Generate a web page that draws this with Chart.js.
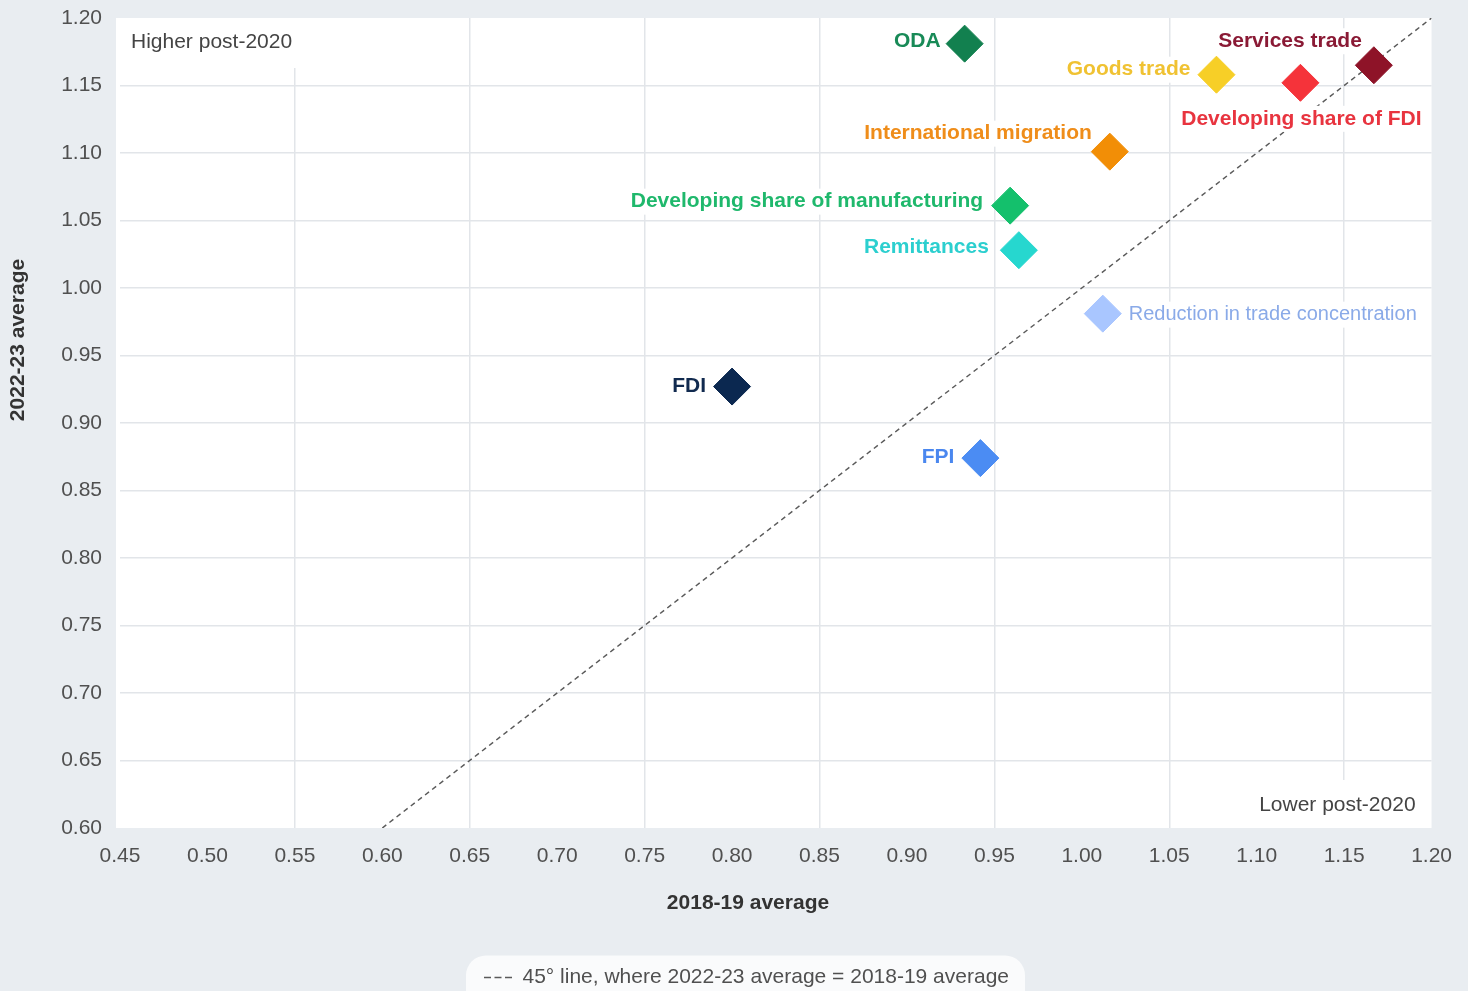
<!DOCTYPE html>
<html>
<head>
<meta charset="utf-8">
<script src="https://cdn.jsdelivr.net/npm/chart.js@4.4.1/dist/chart.umd.min.js"></script>
<style>
  html, body { margin: 0; padding: 0; background: #e9edf1; overflow: hidden; }
  #wrap { width: 1468px; height: 998px; position: relative; }
</style>
</head>
<body>
<div id="wrap"><canvas id="chart"></canvas></div>
<script>
// Data
const indicators = ['ODA', 'Services trade', 'Goods trade', 'Developing share of FDI',
  'International migration', 'Developing share of manufacturing', 'Remittances',
  'Reduction in trade concentration', 'FDI', 'FPI'];
const avg2018_19 = [0.933, 1.167, 1.077, 1.125, 1.016, 0.959, 0.964, 1.012, 0.800, 0.942];
const avg2022_23 = [1.181, 1.165, 1.158, 1.152, 1.101, 1.061, 1.028, 0.981, 0.927, 0.874];
const parityLine = [0.60, 1.20];
const xRange = [0.45, 1.20];
const yRange = [0.60, 1.20];
const tickStep = 0.05;

// Styling
const FONT = '"Liberation Sans", Arial, sans-serif';
const pointColors = ['#12804f', '#8e1328', '#f7cf27', '#f5333a', '#f28e06',
  '#14c06c', '#26d7cf', '#a9c6ff', '#0b2850', '#4b8cf3'];
const textColors = ['#188a57', '#8a1a35', '#f0c232', '#e8343f', '#ef8d1a',
  '#1fb86c', '#2ccfcf', '#8aaae8', '#112a4f', '#4a87ef'];
// label offset from its marker, in pixels
const labelPlacement = [
  { dx: -24, dy: -2, align: 'right' },
  { dx: -12, dy: -24, align: 'right' },
  { dx: -26, dy: -5, align: 'right' },
  { dx: 1, dy: 36, align: 'center' },
  { dx: -18, dy: -18, align: 'right' },
  { dx: -27, dy: -4, align: 'right' },
  { dx: -30, dy: -3, align: 'right' },
  { dx: 26, dy: 1, align: 'left', weight: 'normal', size: 20 },
  { dx: -26, dy: 0, align: 'right' },
  { dx: -26, dy: -1, align: 'right' }
];

Chart.defaults.font.family = FONT;
Chart.defaults.font.size = 21;
Chart.defaults.color = '#505050';

const plotBackground = {
  id: 'plotBackground',
  beforeDraw(chart) {
    const { ctx, chartArea: a, legend } = chart;
    ctx.save();
    ctx.fillStyle = '#ffffff';
    ctx.fillRect(a.left - 4, a.top, a.right - a.left + 4, a.bottom - a.top);
    const box = legend.legendHitBoxes && legend.legendHitBoxes[0];
    if (box) {
      const cy = box.top + box.height / 2;
      ctx.fillStyle = '#fafbfc';
      ctx.beginPath();
      ctx.roundRect(box.left - 18, cy - 22, box.width + 34, 60, 20);
      ctx.fill();
    }
    ctx.restore();
  }
};

const quadrantLabels = {
  id: 'quadrantLabels',
  beforeDatasetsDraw(chart) {
    const { ctx, chartArea: a } = chart;
    ctx.save();
    ctx.font = '21px ' + FONT;
    ctx.textBaseline = 'middle';
    ctx.fillStyle = '#ffffff';
    const w1 = ctx.measureText('Higher post-2020').width;
    ctx.fillRect(a.left + 4, a.top, w1 + 20, 50);
    const w2 = ctx.measureText('Lower post-2020').width;
    ctx.fillRect(a.right - 16 - w2 - 10, a.bottom - 48, w2 + 20, 48);
    ctx.fillStyle = '#444444';
    ctx.textAlign = 'left';
    ctx.fillText('Higher post-2020', a.left + 11, a.top + 24);
    ctx.textAlign = 'right';
    ctx.fillText('Lower post-2020', a.right - 16, a.bottom - 23);
    ctx.restore();
  }
};

const pointLabels = {
  id: 'pointLabels',
  beforeDatasetDraw(chart, args) {
    if (args.index !== 0) return;
    const { ctx } = chart;
    const meta = chart.getDatasetMeta(0);
    ctx.save();
    ctx.textBaseline = 'middle';
    meta.data.forEach((pt, i) => {
      const p = labelPlacement[i];
      ctx.font = (p.weight || 'bold') + ' ' + (p.size || 21) + 'px ' + FONT;
      ctx.textAlign = p.align;
      const tx = pt.x + p.dx;
      const ty = pt.y + p.dy;
      const w = ctx.measureText(indicators[i]).width;
      const left = p.align === 'right' ? tx - w : p.align === 'center' ? tx - w / 2 : tx;
      ctx.fillStyle = '#ffffff';
      ctx.fillRect(left - 5, ty - 13, w + 10, 26);
      ctx.fillStyle = textColors[i];
      ctx.fillText(indicators[i], tx, ty);
    });
    ctx.restore();
  }
};

const axisTitles = {
  id: 'axisTitles',
  afterDraw(chart) {
    const { ctx, chartArea: a } = chart;
    ctx.save();
    ctx.fillStyle = '#333333';
    ctx.font = 'bold 21px ' + FONT;
    ctx.textAlign = 'center';
    ctx.textBaseline = 'middle';
    ctx.fillText('2018-19 average', a.left + 628, a.bottom + 75);
    ctx.translate(18, (a.top + a.bottom) / 2 - 83);
    ctx.rotate(-Math.PI / 2);
    ctx.fillText('2022-23 average', 0, 0);
    ctx.restore();
  }
};

const GRID = '#e2e5e9';

new Chart(document.getElementById('chart'), {
  type: 'scatter',
  data: {
    datasets: [
      {
        label: 'Indicators',
        data: indicators.map((_, i) => ({ x: avg2018_19[i], y: avg2022_23[i] })),
        backgroundColor: pointColors,
        borderColor: pointColors,
        borderWidth: 1,
        pointStyle: 'rectRot',
        pointRadius: 18.5,
        order: 1
      },
      {
        type: 'line',
        label: '45\u00b0 line, where 2022-23 average = 2018-19 average',
        data: parityLine.map(v => ({ x: v, y: v })),
        borderColor: '#5a5a5a',
        backgroundColor: 'transparent',
        borderWidth: 1.5,
        borderDash: [5, 4],
        pointRadius: 0,
        order: 2
      }
    ]
  },
  options: {
    responsive: true,
    maintainAspectRatio: false,
    animation: false,
    layout: { autoPadding: false, padding: { left: 60, right: 35, top: 18, bottom: 0 } },
    scales: {
      x: {
        type: 'linear',
        min: xRange[0],
        max: xRange[1],
        afterFit: (scale) => { scale.height = 129; },
        border: { display: false },
        grid: {
          drawTicks: false,
          lineWidth: 1.5,
          color: (c) => (c.index > 0 && c.index % 2 === 0 ? GRID : 'transparent')
        },
        ticks: {
          stepSize: tickStep,
          padding: 16,
          maxRotation: 0,
          autoSkip: false,
          callback: (v) => v.toFixed(2)
        }
      },
      y: {
        type: 'linear',
        min: yRange[0],
        max: yRange[1],
        afterFit: (scale) => { scale.width = 60; },
        border: { display: false },
        grid: {
          drawTicks: true,
          tickLength: 14,
          tickColor: 'transparent',
          lineWidth: 1.5,
          color: (c) => (c.index > 0 && c.index < 12 ? GRID : 'transparent')
        },
        ticks: {
          stepSize: tickStep,
          padding: 4,
          autoSkip: false,
          callback: (v) => v.toFixed(2)
        }
      }
    },
    plugins: {
      tooltip: { enabled: false },
      legend: {
        position: 'bottom',
        labels: {
          filter: (item) => item.datasetIndex === 1,
          generateLabels: (chart) =>
            Chart.defaults.plugins.legend.labels.generateLabels(chart).map((item) => ({
              ...item,
              lineDash: [7, 3.5],
              lineWidth: 1.5,
              strokeStyle: '#5a5a5a'
            })),
          usePointStyle: true,
          pointStyle: 'line',
          pointStyleWidth: 28,
          padding: 10,
          color: '#505050',
          font: { size: 21 }
        }
      }
    }
  },
  plugins: [plotBackground, quadrantLabels, pointLabels, axisTitles]
});
</script>
</body>
</html>
